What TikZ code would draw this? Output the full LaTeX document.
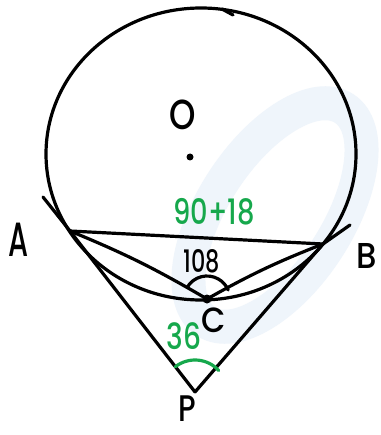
\documentclass[tikz,border=0pt]{standalone}
\usepackage{fontspec}
\usepackage{graphicx}
\setmainfont{Poppins}[UprightFont=* Medium]
\definecolor{mygreen}{RGB}{22,168,76}
\definecolor{wmblue}{RGB}{239,245,251}
\begin{document}
\begin{tikzpicture}[x=1pt,y=-1pt,line cap=round,line join=round,
  ln/.style={line width=3.2pt,draw=black},
  grn/.style={line width=3.2pt,draw=mygreen},
  lab/.style={inner sep=0pt,text=black},
  glab/.style={inner sep=0pt,text=mygreen}]
\useasboundingbox (0,0) rectangle (380,435);
\fill[white] (0,0) rectangle (380,435);
% watermark
\draw[wmblue,line width=34pt,rotate around={57:(275,215)}] (275,215) ellipse [x radius=127,y radius=62];
% points
\coordinate (O) at (190,157);
\coordinate (A) at (70,231);
\coordinate (B) at (323,244);
\coordinate (C) at (207,299);
\coordinate (P) at (195,392);
\coordinate (Ta) at (43,197);
\coordinate (Tb) at (350,225);
% circle
\draw[ln] (201,154) ellipse [x radius=155,y radius=146];
\draw[ln] (222,9) -- (233,15);
% chords and tangents
\draw[ln] (A) -- (B);
\draw[ln] (A) to[bend left=4] (C);
\draw[ln] (C) to[bend left=4] (B);
\draw[ln] (Ta) -- (A) -- (P);
\draw[ln] (P) -- (B) -- (Tb);
% dots
\fill (C) circle (4.5);
\fill (O) circle (3.5);
% angle arcs
\draw[ln] ([shift={(210:23)}]C) arc[start angle=210,end angle=337,radius=23];
\draw[grn] ([shift={(232:32)}]P) arc[start angle=232,end angle=318,radius=32];
% labels
\node[lab,font=\fontsize{42}{42}\selectfont] (lO) at (183,115) {\scalebox{0.8}[1]{O}};
\node[lab,font=\fontsize{48}{48}\selectfont] (lA) at (19,240) {\scalebox{0.6}[1]{A}};
\node[lab,font=\fontsize{36}{36}\selectfont] (lB) at (367,256) {\scalebox{0.9}[1]{B}};
\node[lab,font=\fontsize{35}{35}\selectfont] (lC) at (214,320) {\scalebox{0.9}[1]{C}};
\node[lab,font=\fontsize{37}{37}\selectfont] (lP) at (187,409) {\scalebox{0.8}[1]{P}};
\node[lab,font=\fontsize{31}{31}\selectfont] (l108) at (202,261) {\scalebox{0.72}[1]{108}};
\node[glab,font=\fontsize{35}{35}\selectfont] (l9018) at (214,212) {\scalebox{0.78}[1]{90+18}};
\node[glab,font=\fontsize{36}{36}\selectfont] (l36) at (184,336) {\scalebox{0.78}[1]{36}};
\end{tikzpicture}
\end{document}
